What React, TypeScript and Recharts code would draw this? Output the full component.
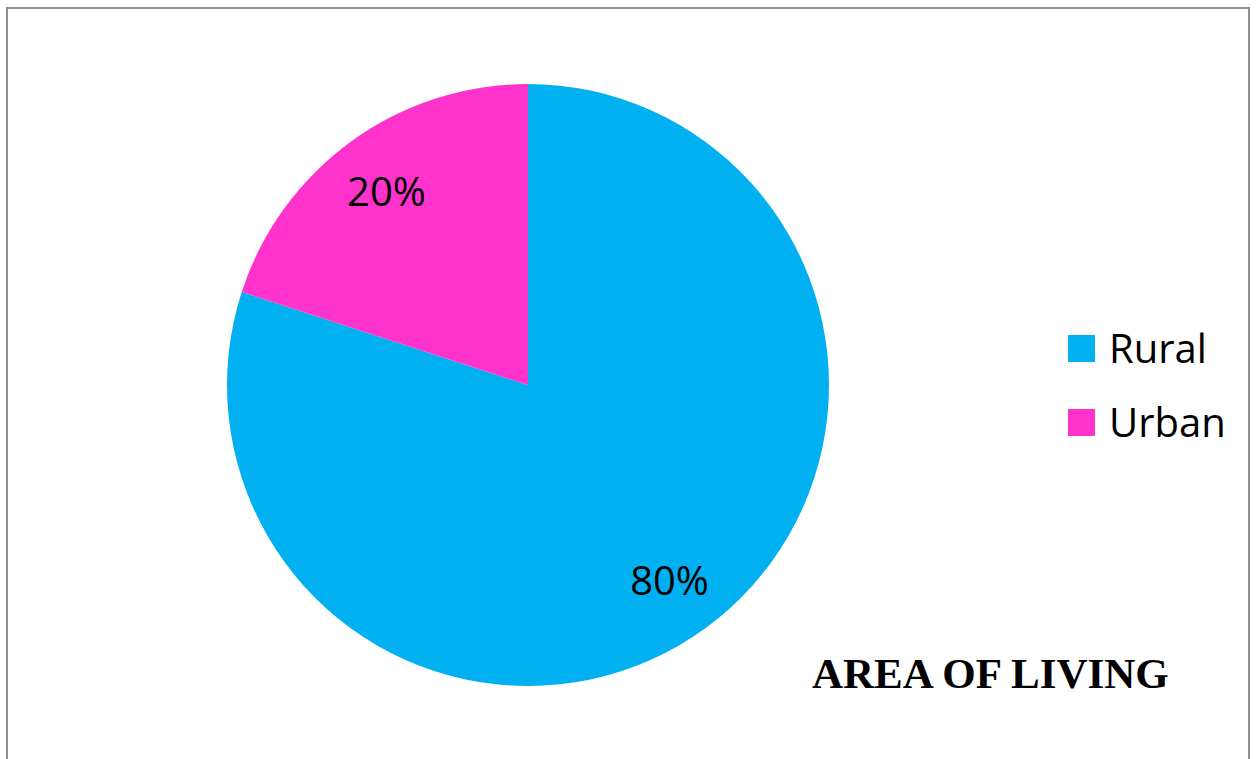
import { PieChart, Pie, Cell, Legend } from "recharts";

const categories = ["Rural", "Urban"];
const shares = [80, 20];
const colors = ["#00B0F0", "#FF33CC"];
const chartTitle = "AREA OF LIVING";

const data = categories.map((name, i) => ({ name, value: shares[i] }));

const RAD = Math.PI / 180;

// percentage label placed inside each slice
function renderLabel(props: any) {
  const { cx, cy, midAngle, outerRadius, percent } = props;
  const r = outerRadius * 0.8;
  const x = cx + r * Math.cos(-midAngle * RAD);
  const y = cy + r * Math.sin(-midAngle * RAD);
  return (
    <text
      x={x}
      y={y}
      fill="#000"
      textAnchor="middle"
      dominantBaseline="central"
      fontFamily="'Open Sans', sans-serif"
      fontSize={40}
    >
      {`${Math.round(percent * 100)}%`}
    </text>
  );
}

function LegendContent() {
  return (
    <div style={{ fontFamily: "'Open Sans', sans-serif", fontSize: 40, color: "#000" }}>
      {categories.map((name, i) => (
        <div key={name} style={{ display: "flex", alignItems: "center", height: 74 }}>
          <span
            style={{
              display: "inline-block",
              width: 27,
              height: 27,
              background: colors[i],
              marginRight: 14,
            }}
          />
          <span style={{ lineHeight: 1 }}>{name}</span>
        </div>
      ))}
    </div>
  );
}

export default function App() {
  return (
    <div style={{ position: "absolute", left: 0, top: 0, width: 1257, height: 759, overflow: "hidden", background: "#fff" }}>
      <div
        style={{
          position: "absolute",
          left: 6,
          top: 7,
          width: 1244,
          height: 800,
          border: "2px solid #8f8f8f",
          boxSizing: "border-box",
        }}
      />
      <PieChart
        width={1257}
        height={759}
        margin={{ top: 0, right: 0, bottom: 0, left: 0 }}
        style={{ position: "absolute", left: 0, top: 0 }}
      >
        <Pie
          data={data}
          dataKey="value"
          nameKey="name"
          cx={528}
          cy={385}
          outerRadius={301}
          startAngle={90}
          endAngle={-270}
          stroke="none"
          label={renderLabel}
          labelLine={false}
          isAnimationActive={false}
        >
          {data.map((d, i) => (
            <Cell key={d.name} fill={colors[i]} />
          ))}
        </Pie>
        <Legend
          content={<LegendContent />}
          wrapperStyle={{ position: "absolute", left: 1068, top: 311, width: 180, bottom: "auto" }}
        />
      </PieChart>
      <div
        style={{
          position: "absolute",
          left: 812,
          top: 652,
          fontFamily: "'Liberation Serif', 'Times New Roman', serif",
          fontWeight: "bold",
          fontSize: 43,
          lineHeight: 1,
          whiteSpace: "nowrap",
          color: "#000",
        }}
      >
        {chartTitle}
      </div>
    </div>
  );
}
